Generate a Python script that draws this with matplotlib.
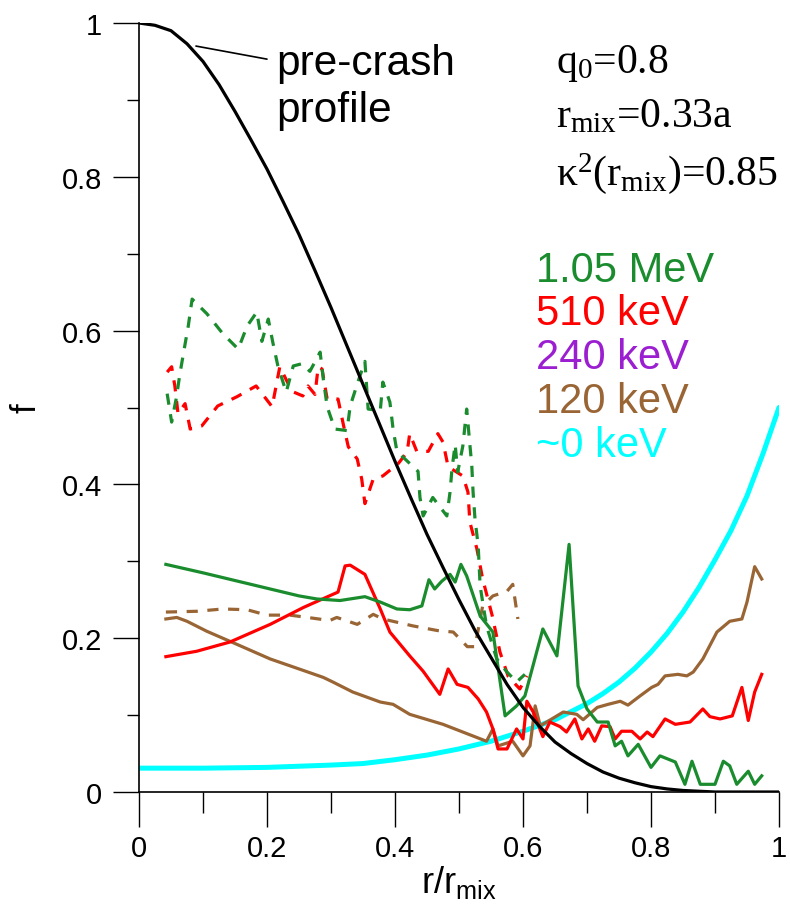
import matplotlib
matplotlib.use("Agg")
import matplotlib.pyplot as plt

plt.rcParams['font.family'] = ['Liberation Sans', 'DejaVu Sans']
plt.rcParams['mathtext.fontset'] = 'custom'
plt.rcParams['mathtext.rm'] = 'Liberation Serif'
plt.rcParams['mathtext.sf'] = 'Liberation Sans'
plt.rcParams['mathtext.it'] = 'Liberation Serif:italic'

# ---------------- data ----------------
pre_x = [0, 0.025, 0.05, 0.075, 0.1, 0.125, 0.15, 0.175, 0.2, 0.225, 0.25, 0.275, 0.3,
         0.325, 0.35, 0.375, 0.4, 0.425, 0.45, 0.475, 0.5, 0.525, 0.55, 0.575, 0.6,
         0.625, 0.65, 0.675, 0.7, 0.725, 0.75, 0.775, 0.8, 0.825, 0.85, 0.875, 0.9, 1.0]
pre_y = [1.0, 0.997, 0.99, 0.973, 0.95, 0.92, 0.885, 0.848, 0.81, 0.768, 0.725, 0.678,
         0.63, 0.58, 0.53, 0.48, 0.43, 0.382, 0.335, 0.292, 0.25, 0.21, 0.175, 0.14,
         0.11, 0.086, 0.065, 0.05, 0.037, 0.026, 0.018, 0.012, 0.007, 0.004, 0.002,
         0.001, 0.0, 0.0]

cyan_x = [0, 0.1, 0.2, 0.3, 0.35, 0.4, 0.45, 0.5, 0.55, 0.6, 0.65, 0.7, 0.725, 0.75,
          0.775, 0.8, 0.825, 0.85, 0.875, 0.9, 0.925, 0.95, 0.975, 1.0]
cyan_y = [0.031, 0.031, 0.032, 0.035, 0.037, 0.042, 0.048, 0.056, 0.066, 0.079, 0.094,
          0.115, 0.128, 0.143, 0.161, 0.182, 0.206, 0.234, 0.266, 0.302, 0.34, 0.385,
          0.44, 0.50]

green_x = [0.042, 0.1, 0.15, 0.2, 0.25, 0.278, 0.314, 0.353, 0.377, 0.403, 0.423, 0.442,
           0.453, 0.462, 0.473, 0.486, 0.494, 0.503, 0.512, 0.533, 0.553, 0.572, 0.59,
           0.603, 0.631, 0.653, 0.672, 0.686, 0.70, 0.716, 0.733, 0.744, 0.754, 0.764,
           0.78, 0.80, 0.814, 0.838, 0.853, 0.864, 0.877, 0.90, 0.913, 0.923, 0.934,
           0.952, 0.962, 0.973]
green_y = [0.296, 0.285, 0.275, 0.265, 0.255, 0.251, 0.249, 0.254, 0.247, 0.238, 0.237,
           0.242, 0.276, 0.264, 0.274, 0.283, 0.273, 0.296, 0.281, 0.229, 0.208, 0.099,
           0.112, 0.125, 0.212, 0.177, 0.322, 0.138, 0.108, 0.091, 0.091, 0.06, 0.066,
           0.047, 0.062, 0.032, 0.047, 0.039, 0.010, 0.04, 0.010, 0.01, 0.04, 0.034,
           0.01, 0.027, 0.01, 0.021]

red_x = [0.042, 0.09, 0.142, 0.205, 0.257, 0.311, 0.322, 0.33, 0.353, 0.377, 0.392,
         0.423, 0.444, 0.470, 0.483, 0.497, 0.514, 0.530, 0.543, 0.553, 0.561, 0.575,
         0.59, 0.60, 0.606, 0.616, 0.631, 0.642, 0.658, 0.668, 0.681, 0.692, 0.702,
         0.712, 0.723, 0.736, 0.744, 0.754, 0.77, 0.783, 0.794, 0.803, 0.822, 0.838,
         0.861, 0.881, 0.892, 0.908, 0.927, 0.942, 0.952, 0.962, 0.973]
red_y = [0.176, 0.183, 0.195, 0.218, 0.24, 0.26, 0.294, 0.295, 0.283, 0.238, 0.208,
         0.177, 0.157, 0.127, 0.16, 0.14, 0.136, 0.121, 0.104, 0.082, 0.056, 0.056,
         0.082, 0.069, 0.118, 0.104, 0.072, 0.091, 0.085, 0.078, 0.095, 0.069, 0.082,
         0.066, 0.086, 0.085, 0.069, 0.079, 0.079, 0.069, 0.078, 0.072, 0.095, 0.088,
         0.091, 0.108, 0.098, 0.095, 0.099, 0.136, 0.093, 0.13, 0.153]

brown_x = [0.042, 0.059, 0.075, 0.106, 0.153, 0.205, 0.257, 0.288, 0.303, 0.334, 0.377,
           0.397, 0.423, 0.475, 0.543, 0.553, 0.561, 0.584, 0.600, 0.611, 0.619, 0.627,
           0.645, 0.663, 0.684, 0.694, 0.716, 0.733, 0.752, 0.764, 0.783, 0.801, 0.811,
           0.822, 0.842, 0.856, 0.866, 0.881, 0.903, 0.923, 0.942, 0.95, 0.962, 0.973]
brown_y = [0.225, 0.227, 0.222, 0.209, 0.192, 0.173, 0.158, 0.149, 0.143, 0.130, 0.117,
           0.114, 0.101, 0.088, 0.066, 0.082, 0.060, 0.066, 0.047, 0.060, 0.112, 0.086,
           0.095, 0.104, 0.101, 0.094, 0.11, 0.114, 0.118, 0.113, 0.125, 0.136, 0.14,
           0.151, 0.153, 0.151, 0.156, 0.173, 0.208, 0.222, 0.225, 0.247, 0.293, 0.277]

green_d_x = [0.044, 0.051, 0.058, 0.064, 0.070, 0.077, 0.083, 0.106, 0.131, 0.155, 0.169,
             0.184, 0.192, 0.202, 0.209, 0.217, 0.230, 0.241, 0.255, 0.267, 0.283, 0.288,
             0.294, 0.306, 0.325, 0.330, 0.342, 0.353, 0.358, 0.377, 0.381, 0.392, 0.397,
             0.403, 0.436, 0.439, 0.444, 0.459, 0.481, 0.486, 0.489, 0.494, 0.498, 0.506,
             0.512, 0.520, 0.522, 0.525, 0.530, 0.533, 0.543, 0.559, 0.575, 0.590, 0.603]
green_d_y = [0.518, 0.481, 0.511, 0.544, 0.573, 0.606, 0.641, 0.622, 0.596, 0.576, 0.606,
             0.624, 0.586, 0.615, 0.585, 0.554, 0.520, 0.554, 0.557, 0.547, 0.572, 0.537,
             0.501, 0.472, 0.470, 0.502, 0.533, 0.560, 0.498, 0.496, 0.533, 0.507, 0.472,
             0.443, 0.417, 0.383, 0.359, 0.383, 0.359, 0.39, 0.42, 0.452, 0.416, 0.45,
             0.498, 0.424, 0.39, 0.355, 0.32, 0.268, 0.216, 0.173, 0.156, 0.143, 0.153]

red_d_x = [0.044, 0.051, 0.056, 0.061, 0.072, 0.080, 0.098, 0.123, 0.153, 0.183, 0.208,
           0.220, 0.239, 0.256, 0.264, 0.275, 0.280, 0.286, 0.294, 0.311, 0.319, 0.327,
           0.341, 0.348, 0.353, 0.366, 0.381, 0.405, 0.419, 0.423, 0.434, 0.452, 0.467,
           0.475, 0.483, 0.506, 0.514, 0.517, 0.528, 0.537, 0.552, 0.564, 0.577, 0.595,
           0.606]
red_d_y = [0.546, 0.553, 0.528, 0.492, 0.505, 0.472, 0.476, 0.502, 0.514, 0.528, 0.501,
           0.553, 0.521, 0.515, 0.528, 0.517, 0.553, 0.55, 0.511, 0.511, 0.479, 0.449,
           0.433, 0.407, 0.375, 0.407, 0.411, 0.427, 0.442, 0.466, 0.443, 0.443, 0.466,
           0.455, 0.423, 0.411, 0.39, 0.351, 0.316, 0.277, 0.229, 0.182, 0.150, 0.134,
           0.151]

brown_d_x = [0.042, 0.09, 0.131, 0.169, 0.2, 0.236, 0.272, 0.298, 0.309, 0.341, 0.366,
             0.381, 0.428, 0.466, 0.491, 0.513, 0.525, 0.537, 0.553, 0.575, 0.584, 0.592]
brown_d_y = [0.234, 0.235, 0.238, 0.237, 0.23, 0.23, 0.226, 0.223, 0.227, 0.218, 0.231,
             0.225, 0.216, 0.21, 0.208, 0.189, 0.189, 0.242, 0.255, 0.261, 0.270, 0.225]

legend_labels = ["1.05 MeV", "510 keV", "240 keV", "120 keV", "~0 keV"]

C_GREEN = "#1a8c2e"
C_RED = "#ff0000"
C_PURPLE = "#9b1fd0"
C_BROWN = "#9a6535"
C_CYAN = "#00ffff"
legend_colors = [C_GREEN, C_RED, C_PURPLE, C_BROWN, C_CYAN]

# ---------------- figure ----------------
fig = plt.figure(figsize=(7.9, 9.12), dpi=100)
ax = fig.add_axes([139/790, 1 - 793/912, 640/790, 769/912])

dash = (0, (3.5, 3.0))
ax.plot(cyan_x, cyan_y, color=C_CYAN, lw=3.6, solid_capstyle='round', zorder=2)
ax.plot(brown_d_x, brown_d_y, color=C_BROWN, lw=2.3, ls=dash, zorder=3)
ax.plot(red_d_x, red_d_y, color=C_RED, lw=2.3, ls=dash, zorder=3)
ax.plot(green_d_x, green_d_y, color=C_GREEN, lw=2.3, ls=dash, zorder=3)
ax.plot(brown_x, brown_y, color=C_BROWN, lw=2.3, zorder=3)
ax.plot(red_x, red_y, color=C_RED, lw=2.3, zorder=3)
ax.plot(green_x, green_y, color=C_GREEN, lw=2.3, zorder=3)
ax.plot(pre_x, pre_y, color="black", lw=2.3, zorder=4)

ax.set_xlim(0, 1)
ax.set_ylim(0, 1)
for s in ['top', 'right']:
    ax.spines[s].set_visible(False)
ax.spines['left'].set_linewidth(1.2)
ax.spines['bottom'].set_linewidth(1.2)

ax.set_xticks([0, 0.2, 0.4, 0.6, 0.8, 1.0])
ax.set_xticklabels(["0", "0.2", "0.4", "0.6", "0.8", "1"])
ax.set_xticks([0.1, 0.3, 0.5, 0.7, 0.9], minor=True)
ax.set_yticks([0, 0.2, 0.4, 0.6, 0.8, 1.0])
ax.set_yticklabels(["0", "0.2", "0.4", "0.6", "0.8", "1"])
ax.set_yticks([0.1, 0.3, 0.5, 0.7, 0.9], minor=True)
ax.tick_params(axis='x', which='major', direction='out', length=25, width=1, labelsize=21, pad=5)
ax.tick_params(axis='x', which='minor', direction='out', length=15, width=1)
ax.tick_params(axis='y', which='major', direction='out', length=18.5, width=1, labelsize=21, pad=8)
ax.tick_params(axis='y', which='minor', direction='out', length=9, width=1)

ax.set_xlabel(r'$\mathsf{r/r_{mix}}$', fontsize=26, labelpad=1)
ax.set_ylabel('f', fontsize=25, labelpad=14)

# pre-crash annotation
ax.annotate("", xy=(0.089, 0.97), xytext=(0.2, 0.953),
            arrowprops=dict(arrowstyle='-', color='black', lw=1.2,
                            shrinkA=0, shrinkB=0), zorder=5)
ax.text(0.214, 0.934, "pre-crash", fontsize=30.5, ha='left', va='baseline')
ax.text(0.214, 0.872, "profile", fontsize=30.5, ha='left', va='baseline')

# parameter text (serif)
ax.text(0.652, 0.936, r'$\mathrm{q_0}$=0.8', fontsize=30, family='Liberation Serif',
        ha='left', va='baseline')
ax.text(0.652, 0.866, r'$\mathrm{r_{mix}}$=0.33a', fontsize=30, family='Liberation Serif',
        ha='left', va='baseline')
ax.text(0.652, 0.791, r'$\mathrm{κ^2(r_{mix})}$=0.85', fontsize=30,
        family='Liberation Serif', ha='left', va='baseline')

ys = [0.665, 0.608, 0.551, 0.494, 0.437]
for lab, col, yy in zip(legend_labels, legend_colors, ys):
    ax.text(0.620, yy, lab, color=col, fontsize=30, ha='left', va='baseline')

fig.savefig("out.png", dpi=100)
